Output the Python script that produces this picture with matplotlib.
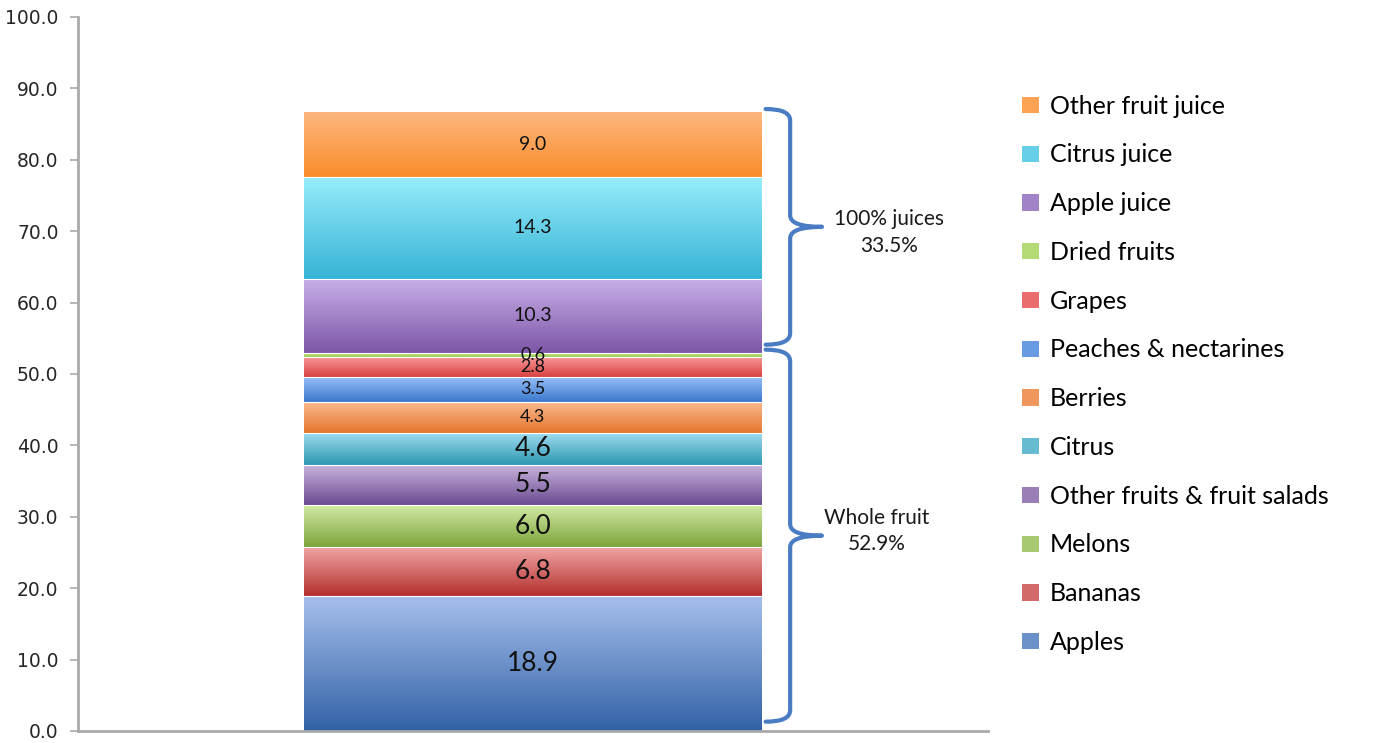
import numpy as np
import matplotlib.pyplot as plt
from matplotlib.path import Path
from matplotlib.patches import PathPatch, Patch
from matplotlib.colors import to_rgb

plt.rcParams['font.family'] = ['Lato', 'DejaVu Sans']

# stacked from bottom to top
categories = ["Apples", "Bananas", "Melons", "Other fruits & fruit salads", "Citrus",
              "Berries", "Peaches & nectarines", "Grapes", "Dried fruits",
              "Apple juice", "Citrus juice", "Other fruit juice"]
values = [18.9, 6.8, 6.0, 5.5, 4.6, 4.3, 3.5, 2.8, 0.6, 10.3, 14.3, 9.0]
value_labels = ["18.9", "6.8", "6.0", "5.5", "4.6", "4.3", "3.5", "2.8", "0.6", "10.3", "14.3", "9.0"]
label_sizes = [19, 19, 19, 19, 19, 13, 13, 13, 13, 14, 14, 14]

# gradient colours (top, bottom) per segment
top_colors = ["#a6bfec", "#f0a4a3", "#d4eba7", "#c8b3db", "#a0ddf0", "#f9b88d",
              "#95bdf6", "#f89797", "#cfec9c", "#c6aee7", "#98edfb", "#fcb67d"]
bottom_colors = ["#3262a6", "#b3302e", "#7ea53c", "#6b4a92", "#2e98b2", "#e5762d",
                 "#3b79cd", "#d84240", "#9ac84f", "#7e57a8", "#36b3d5", "#f98e2c"]

groups = ["100% juices\n33.5%", "Whole fruit\n52.9%"]
group_ranges = [(54.1, 87.1), (1.3, 53.4)]
group_text_y = [69.8, 28.0]
group_text_x = [0.392, 0.378]

yticks = np.arange(0, 101, 10)

fig = plt.figure(figsize=(13.75, 7.43), dpi=100)
ax = fig.add_axes([0.0567, 0.0162, 0.6615, 0.961])

bottoms = np.concatenate([[0], np.cumsum(values)[:-1]])
bars = ax.bar(0, values, bottom=bottoms, width=0.503, color="none", edgecolor="none", zorder=2)

for bar, ct, cb in zip(bars, top_colors, bottom_colors):
    x0, y0 = bar.get_x(), bar.get_y()
    x1, y1 = x0 + bar.get_width(), y0 + bar.get_height()
    t = np.linspace(0, 1, 64)[:, None]
    grad = (1 - t) * np.array(to_rgb(ct)) + t * np.array(to_rgb(cb))
    ax.imshow(grad[:, None, :], extent=[x0, x1, y0, y1], origin="upper",
              aspect="auto", interpolation="bilinear", zorder=2)
    if bar is not bars[-1]:
        ax.plot([x0, x1], [y1, y1], color="white", lw=0.8, zorder=3)

for bar, lab, fs in zip(bars, value_labels, label_sizes):
    ax.text(0, bar.get_y() + bar.get_height() / 2, lab, ha="center", va="center",
            fontsize=fs, color="#111111", zorder=4)


def brace(ax, y0, y1, x_end=0.256, x_v=0.283, x_tip=0.318, r=1.6):
    ym = (y0 + y1) / 2
    verts = [(x_end, y1), (x_v, y1), (x_v, y1 - r),
             (x_v, ym + r),
             (x_v, ym), (x_tip, ym),
             (x_v, ym), (x_v, ym - r),
             (x_v, y0 + r),
             (x_v, y0), (x_end, y0)]
    codes = [Path.MOVETO, Path.CURVE3, Path.CURVE3,
             Path.LINETO,
             Path.CURVE3, Path.CURVE3,
             Path.CURVE3, Path.CURVE3,
             Path.LINETO,
             Path.CURVE3, Path.CURVE3]
    ax.add_patch(PathPatch(Path(verts, codes), fill=False, edgecolor="#4a7cc4",
                           lw=3, capstyle="round", joinstyle="round", zorder=5))


for (g0, g1), txt, tx, ty in zip(group_ranges, groups, group_text_x, group_text_y):
    brace(ax, g0, g1)
    ax.text(tx, ty, txt, ha="center", va="center", fontsize=15,
            color="#1a1a1a", linespacing=1.4)

ax.set_xlim(-0.5, 0.5)
ax.set_ylim(0, 100)
ax.set_yticks(yticks)
ax.set_yticklabels([f"{v:.1f}" for v in yticks], fontsize=13.5, color="#262626",
                   family="DejaVu Sans")
ax.set_xticks([])
ax.tick_params(axis="y", length=6, width=1.2, color="#aaaaaa", pad=8)
for s in ["top", "right"]:
    ax.spines[s].set_visible(False)
for s in ["left", "bottom"]:
    ax.spines[s].set_color("#aaaaaa")
    ax.spines[s].set_linewidth(2)

handles = [Patch(facecolor=[(a + b) / 2 for a, b in zip(to_rgb(ct), to_rgb(cb))], edgecolor="none")
           for ct, cb in zip(top_colors, bottom_colors)]
fig.legend(handles[::-1], categories[::-1], loc="upper left", bbox_to_anchor=(0.736, 0.886),
           frameon=False, fontsize=18, handlelength=0.68, handleheight=0.62,
           handletextpad=0.45, labelspacing=1.03, borderaxespad=0)

fig.savefig("out.png", dpi=100)
